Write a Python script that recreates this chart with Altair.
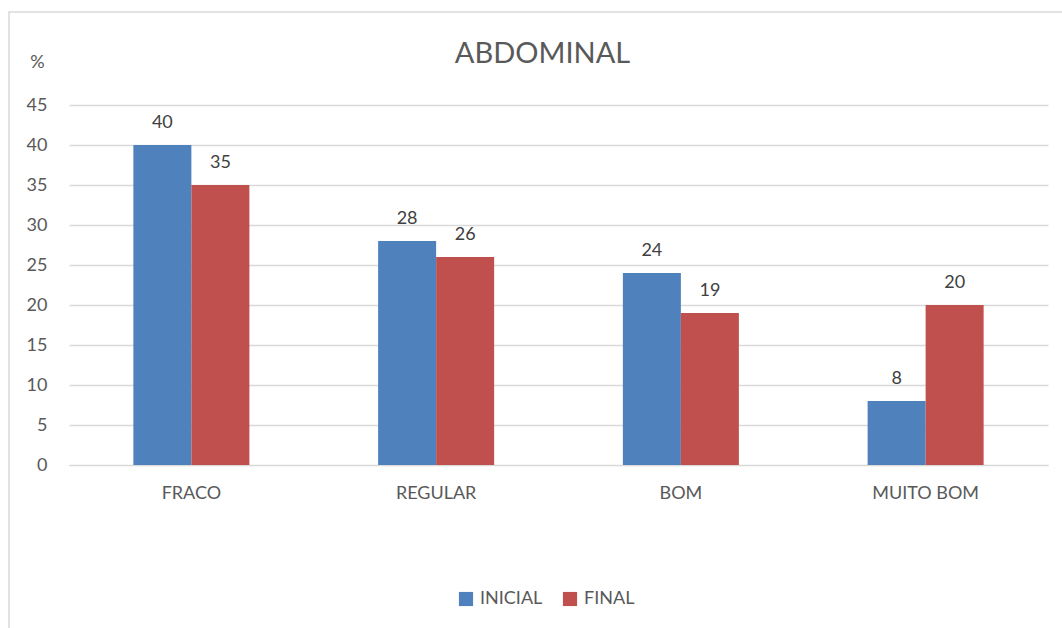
import altair as alt
import pandas as pd

title_text = "ABDOMINAL"
categories = ["FRACO", "REGULAR", "BOM", "MUITO BOM"]
series = ["INICIAL", "FINAL"]
inicial = [40, 28, 24, 8]
final = [35, 26, 19, 20]
colors = ["#4F81BD", "#C0504D"]

rows = []
for c, a, b in zip(categories, inicial, final):
    rows.append({"cat": c, "serie": "INICIAL", "v": a})
    rows.append({"cat": c, "serie": "FINAL", "v": b})
df = pd.DataFrame(rows)

FONT = "Lato"
TXT = "#595959"
FS = 18

x = alt.X("cat:N", sort=categories, title=None,
          scale=alt.Scale(paddingInner=0.526, paddingOuter=0.263),
          axis=alt.Axis(labelAngle=0, labelFontSize=FS, labelColor=TXT, labelFont=FONT,
                        ticks=False, domainColor="#D9D9D9", labelPadding=19))
xo = alt.XOffset("serie:N", sort=series)
y = alt.Y("v:Q", scale=alt.Scale(domain=[0, 45]),
          axis=alt.Axis(values=list(range(0, 50, 5)), title="%", titleAngle=0,
                        titleX=-32, titleY=-43, titleAlign="center", titleBaseline="middle",
                        titleFontSize=FS, titleFontWeight="normal", titleColor=TXT, titleFont=FONT,
                        labelFontSize=FS, labelColor=TXT, labelFont=FONT, labelPadding=22,
                        ticks=False, domain=False, gridColor="#D9D9D9", gridWidth=1.3))

one = pd.DataFrame({"a": [0]})
border = alt.Chart(one).mark_rect(
    fill=None, stroke="#D9D9D9", strokeWidth=1.5
).encode(x=alt.value(-60), y=alt.value(-93), x2=alt.value(1200), y2=alt.value(800))

title = alt.Chart(one).mark_text(
    fontSize=29, font=FONT, color=TXT, baseline="alphabetic", align="center"
).encode(x=alt.value(473.5), y=alt.value(-42), text=alt.value(title_text))

bars = alt.Chart(df).mark_bar().encode(
    x=x, xOffset=xo, y=y,
    color=alt.Color("serie:N", sort=series, scale=alt.Scale(domain=series, range=colors),
                    legend=alt.Legend(title=None, orient="none", direction="horizontal",
                                      legendX=388, legendY=485, symbolType="square",
                                      symbolSize=200, symbolStrokeWidth=0,
                                      labelFontSize=FS, labelColor=TXT, labelFont=FONT,
                                      columnPadding=18, labelOffset=5)),
)
labels = alt.Chart(df).mark_text(dy=-17, baseline="alphabetic", fontSize=FS, color="#404040",
                                 font=FONT).encode(
    x=x, xOffset=xo, y=y, text="v:Q")

chart = alt.layer(border, title, bars, labels).properties(
    width=979, height=360,
    autosize=alt.AutoSizeParams(type="none"),
    padding={"left": 69, "top": 105, "right": 14, "bottom": 163},
).configure_view(stroke=None).configure_axis(grid=True).configure_axisX(grid=False)

chart.save("out.html", embed_options={"renderer": "svg", "actions": False})
